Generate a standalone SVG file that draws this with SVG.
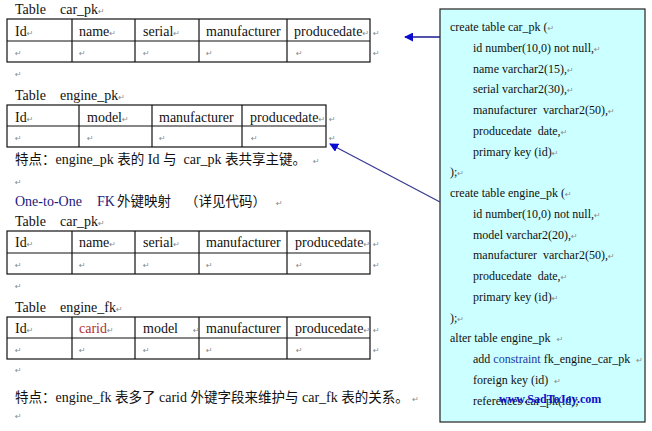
<svg xmlns="http://www.w3.org/2000/svg" width="652" height="431" viewBox="0 0 652 431">
<style>
.t{font-family:"Liberation Serif",serif;font-size:14px;fill:#111}
.cj{font-family:"Noto Sans CJK SC",sans-serif;font-size:13.5px;fill:#111}
.m{font-family:"DejaVu Sans",sans-serif;font-size:8px;fill:#8a8a8a}
.c{font-family:"Liberation Serif",serif;font-size:12px;fill:#111}
.tb{fill:none;stroke:#111;stroke-width:1.2}
.blue{fill:#1a1a80}
.red{fill:#b03030}
</style>
<defs>
<marker id="ah" viewBox="0 0 10 10" refX="9" refY="5" markerWidth="9" markerHeight="9" markerUnits="userSpaceOnUse" orient="auto-start-reverse">
<path d="M0,0 L10,5 L0,10 z" fill="#0a0ad0"/>
</marker>
</defs>
<rect width="652" height="431" fill="#fff"/>

<g id="title1">
<text class="t" x="15" y="14">Table</text>
<text class="t" x="60" y="14">car_pk<tspan class="m">↵</tspan></text>
</g>
<g id="table_car_pk">
<rect class="tb" x="7" y="19" width="363" height="43"/>
<path class="tb" d="M7,41H370M72,19V62M135,19V62M199,19V62M287,19V62"/>
<text class="t" x="15" y="36">Id<tspan class="m">↵</tspan></text>
<text class="t" x="79" y="36">name<tspan class="m">↵</tspan></text>
<text class="t" x="143" y="36">serial<tspan class="m">↵</tspan></text>
<text class="t" x="206" y="36">manufacturer</text>
<text class="t" x="294" y="36">producedate<tspan class="m">↵</tspan></text>
<text class="m" x="373" y="36">↵</text>
<text class="m" x="15" y="56">↵</text><text class="m" x="79" y="56">↵</text><text class="m" x="143" y="56">↵</text><text class="m" x="206" y="56">↵</text><text class="m" x="296" y="56">↵</text><text class="m" x="373" y="56">↵</text>
</g>
<text class="m" x="15" y="77">↵</text>

<g id="title2">
<text class="t" x="15" y="100">Table</text>
<text class="t" x="60" y="100">engine_pk<tspan class="m">↵</tspan></text>
</g>
<g id="table_engine_pk">
<rect class="tb" x="7" y="105" width="319" height="42"/>
<path class="tb" d="M7,126H326M79,105V147M152,105V147M242,105V147"/>
<text class="t" x="15" y="122">Id<tspan class="m">↵</tspan></text>
<text class="t" x="87" y="122">model<tspan class="m">↵</tspan></text>
<text class="t" x="159" y="122">manufacturer</text>
<text class="t" x="250" y="122">producedate<tspan class="m">↵</tspan></text>
<text class="m" x="329" y="122">↵</text>
<text class="m" x="15" y="141">↵</text><text class="m" x="87" y="141">↵</text><text class="m" x="159" y="141">↵</text><text class="m" x="251" y="141">↵</text><text class="m" x="329" y="141">↵</text>
</g>

<g id="note1">
<text x="15" y="164" xml:space="preserve"><tspan class="cj">特点：</tspan><tspan class="t">engine_pk </tspan><tspan class="cj">表的</tspan><tspan class="t"> Id </tspan><tspan class="cj">与</tspan><tspan class="t">  car_pk </tspan><tspan class="cj">表共享主键。</tspan><tspan class="t">  </tspan><tspan class="m">↵</tspan></text>
</g>
<text class="m" x="15" y="185">↵</text>

<g id="heading">
<text class="t blue" x="15" y="206">One-to-One</text>
<text class="t blue" x="97" y="206">FK</text>
<text class="cj" x="117" y="206">外键映射</text>
<text class="cj" x="185" y="206">（详见代码）</text>
<text class="m" x="276" y="206">↵</text>
</g>

<g id="title3">
<text class="t" x="15" y="226">Table</text>
<text class="t" x="60" y="226">car_pk<tspan class="m">↵</tspan></text>
</g>
<g id="table_car_pk_2">
<rect class="tb" x="7" y="231" width="363" height="43"/>
<path class="tb" d="M7,253H370M72,231V274M135,231V274M199,231V274M287,231V274"/>
<text class="t" x="15" y="247">Id<tspan class="m">↵</tspan></text>
<text class="t" x="79" y="247">name<tspan class="m">↵</tspan></text>
<text class="t" x="143" y="247">serial<tspan class="m">↵</tspan></text>
<text class="t" x="206" y="247">manufacturer</text>
<text class="t" x="295" y="247">producedate<tspan class="m">↵</tspan></text>
<text class="m" x="373" y="247">↵</text>
<text class="m" x="15" y="268">↵</text><text class="m" x="79" y="268">↵</text><text class="m" x="143" y="268">↵</text><text class="m" x="206" y="268">↵</text><text class="m" x="296" y="268">↵</text><text class="m" x="373" y="268">↵</text>
</g>
<text class="m" x="15" y="289">↵</text>

<g id="title4">
<text class="t" x="15" y="312">Table</text>
<text class="t" x="60" y="312">engine_fk<tspan class="m">↵</tspan></text>
</g>
<g id="table_engine_fk">
<rect class="tb" x="7" y="317" width="363" height="42"/>
<path class="tb" d="M7,338H370M72,317V359M135,317V359M199,317V359M287,317V359"/>
<text class="t" x="15" y="333">Id<tspan class="m">↵</tspan></text>
<text class="t red" x="79" y="333">carid<tspan class="m">↵</tspan></text>
<text class="t" x="143" y="333">model</text>
<text class="m" x="193" y="333">↵</text>
<text class="t" x="206" y="333">manufacturer</text>
<text class="t" x="295" y="333">producedate<tspan class="m">↵</tspan></text>
<text class="m" x="373" y="333">↵</text>
<text class="m" x="15" y="353">↵</text><text class="m" x="79" y="353">↵</text><text class="m" x="143" y="353">↵</text><text class="m" x="206" y="353">↵</text><text class="m" x="296" y="353">↵</text><text class="m" x="373" y="353">↵</text>
</g>
<text class="m" x="15" y="373">↵</text>

<g id="note2">
<text x="15" y="402" xml:space="preserve"><tspan class="cj">特点：</tspan><tspan class="t">engine_fk </tspan><tspan class="cj">表多了</tspan><tspan class="t"> carid </tspan><tspan class="cj">外键字段来维护与</tspan><tspan class="t"> car_fk </tspan><tspan class="cj">表的关系。</tspan><tspan class="t"> </tspan><tspan class="m">↵</tspan></text>
</g>
<text class="m" x="15" y="419">↵</text>

<g id="code_box">
<rect x="440" y="9" width="205" height="413" fill="#ccffff" stroke="#222" stroke-width="1.2"/>
<text class="c" x="450" y="31">create table car_pk (<tspan class="m">↵</tspan></text>
<text class="c" x="473" y="51.8">id number(10,0) not null,<tspan class="m">↵</tspan></text>
<text class="c" x="473" y="72.5">name varchar2(15),<tspan class="m">↵</tspan></text>
<text class="c" x="473" y="93.3">serial varchar2(30),<tspan class="m">↵</tspan></text>
<text class="c" x="473" y="114" xml:space="preserve">manufacturer  varchar2(50),<tspan class="m">↵</tspan></text>
<text class="c" x="473" y="134.8" xml:space="preserve">producedate  date,<tspan class="m">↵</tspan></text>
<text class="c" x="473" y="155.5">primary key (id)<tspan class="m">↵</tspan></text>
<text class="c" x="450" y="176.3">);<tspan class="m">↵</tspan></text>
<text class="c" x="450" y="197">create table engine_pk (<tspan class="m">↵</tspan></text>
<text class="c" x="473" y="217.8">id number(10,0) not null,<tspan class="m">↵</tspan></text>
<text class="c" x="473" y="238.5">model varchar2(20),<tspan class="m">↵</tspan></text>
<text class="c" x="473" y="259.3" xml:space="preserve">manufacturer  varchar2(50),<tspan class="m">↵</tspan></text>
<text class="c" x="473" y="280" xml:space="preserve">producedate  date,<tspan class="m">↵</tspan></text>
<text class="c" x="473" y="300.8">primary key (id)<tspan class="m">↵</tspan></text>
<text class="c" x="450" y="321.5">);<tspan class="m">↵</tspan></text>
<text class="c" x="450" y="342.3" xml:space="preserve">alter table engine_pk  <tspan class="m">↵</tspan></text>
<text class="c" x="473" y="363" xml:space="preserve">add <tspan fill="#1a3aa0">constraint</tspan> fk_engine_car_pk  <tspan class="m">↵</tspan></text>
<text class="c" x="473" y="383.8" xml:space="preserve">foreign key (id)  <tspan class="m">↵</tspan></text>
<text class="c" x="473" y="404.5">references car_pk(id);</text>
<text x="499" y="403" font-family="Liberation Serif,serif" font-size="12px" font-weight="bold" fill="#1010c8">www.SadToJoy.com</text>
</g>

<g id="connectors">
<line x1="440" y1="37" x2="405" y2="37" stroke="#1a1a90" stroke-width="1.3" marker-end="url(#ah)"/>
<line x1="440" y1="202" x2="330" y2="144" stroke="#3a3a90" stroke-width="1.3" marker-end="url(#ah)"/>
</g>
</svg>
